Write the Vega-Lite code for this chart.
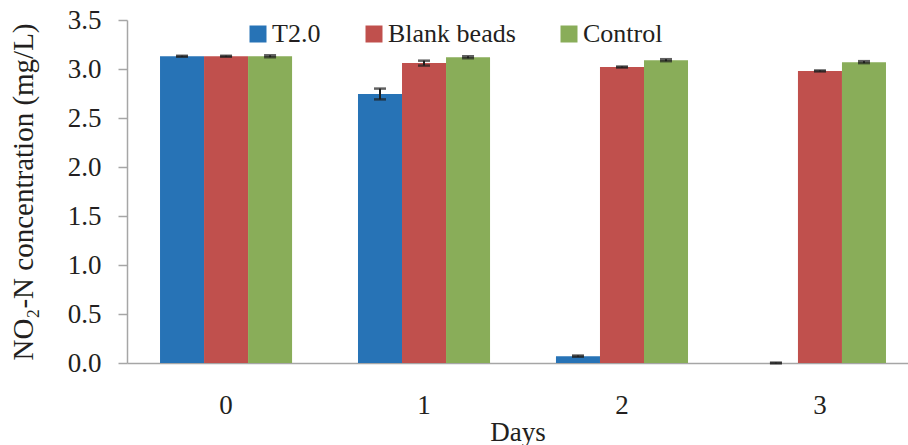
{
  "$schema": "https://vega.github.io/schema/vega-lite/v6.json",
  "width": 781,
  "height": 343,
  "autosize": {"type": "none"},
  "padding": {"left": 127, "top": 20, "right": 0, "bottom": 82},
  "background": "#ffffff",
  "config": {
    "font": "Liberation Serif, Times New Roman, serif",
    "view": {"stroke": null},
    "legend": {
      "labelFont": "Liberation Serif, Times New Roman, serif",
      "titleFont": "Liberation Serif, Times New Roman, serif"
    },
    "axis": {
      "domainColor": "#A6A6A6",
      "domainWidth": 1.5,
      "tickColor": "#A6A6A6",
      "tickWidth": 1.5,
      "labelColor": "#231F20",
      "titleColor": "#231F20",
      "labelFont": "Liberation Serif, Times New Roman, serif",
      "titleFont": "Liberation Serif, Times New Roman, serif",
      "titleFontWeight": "normal",
      "grid": false
    }
  },
  "data": {
    "values": [
      {"day": "0", "series": "T2.0", "value": 3.13, "lo": 3.125, "hi": 3.135},
      {"day": "0", "series": "Blank beads", "value": 3.13, "lo": 3.125, "hi": 3.135},
      {"day": "0", "series": "Control", "value": 3.13, "lo": 3.12, "hi": 3.14},
      {"day": "1", "series": "T2.0", "value": 2.745, "lo": 2.69, "hi": 2.8},
      {"day": "1", "series": "Blank beads", "value": 3.06, "lo": 3.035, "hi": 3.085},
      {"day": "1", "series": "Control", "value": 3.12, "lo": 3.11, "hi": 3.13},
      {"day": "2", "series": "T2.0", "value": 0.07, "lo": 0.064, "hi": 0.076},
      {"day": "2", "series": "Blank beads", "value": 3.02, "lo": 3.015, "hi": 3.025},
      {"day": "2", "series": "Control", "value": 3.09, "lo": 3.08, "hi": 3.1},
      {"day": "3", "series": "T2.0", "value": 0.0, "lo": -0.004, "hi": 0.004},
      {"day": "3", "series": "Blank beads", "value": 2.98, "lo": 2.975, "hi": 2.985},
      {"day": "3", "series": "Control", "value": 3.07, "lo": 3.06, "hi": 3.08}
    ]
  },
  "encoding": {
    "x": {
      "field": "day",
      "type": "nominal",
      "title": "Days",
      "scale": {"paddingInner": 0.333, "paddingOuter": 0.139, "align": 0.6},
      "axis": {
        "labelAngle": 0,
        "ticks": false,
        "tickSize": 0,
        "labelFontSize": 27,
        "labelPadding": 29,
        "titleFontSize": 27,
        "titlePadding": 1
      }
    },
    "xOffset": {
      "field": "series",
      "sort": ["T2.0", "Blank beads", "Control"],
      "scale": {"paddingInner": 0, "paddingOuter": 0}
    }
  },
  "layer": [
    {
      "mark": {"type": "bar"},
      "encoding": {
        "y": {
          "field": "value",
          "type": "quantitative",
          "title": "NO₂-N concentration (mg/L)",
          "scale": {"domain": [0, 3.5], "nice": false},
          "axis": {
            "values": [0, 0.5, 1, 1.5, 2, 2.5, 3, 3.5],
            "format": ".1f",
            "tickSize": 9,
            "labelFontSize": 27,
            "labelPadding": 17,
            "titleFontSize": 29,
            "titlePadding": 29
          }
        },
        "color": {
          "field": "series",
          "type": "nominal",
          "sort": ["T2.0", "Blank beads", "Control"],
          "scale": {
            "domain": ["T2.0", "Blank beads", "Control"],
            "range": ["#2773B6", "#C0504D", "#89AD59"]
          },
          "legend": {
            "orient": "none",
            "legendX": 118,
            "legendY": 1,
            "direction": "horizontal",
            "title": null,
            "symbolType": "square",
            "symbolSize": 289,
            "symbolStrokeWidth": 0,
            "labelFontSize": 26,
            "labelColor": "#231F20",
            "labelOffset": 1,
            "columnPadding": 40,
            "padding": 0
          }
        }
      }
    },
    {
      "mark": {"type": "rule", "color": "#1E1E1E", "strokeWidth": 2},
      "encoding": {
        "y": {"field": "lo", "type": "quantitative"},
        "y2": {"field": "hi"}
      }
    },
    {
      "mark": {"type": "tick", "color": "#1E1E1E", "size": 12, "thickness": 2.5},
      "encoding": {"y": {"field": "lo", "type": "quantitative"}}
    },
    {
      "mark": {"type": "tick", "color": "#1E1E1E", "size": 12, "thickness": 2.5},
      "encoding": {"y": {"field": "hi", "type": "quantitative"}}
    }
  ]
}
